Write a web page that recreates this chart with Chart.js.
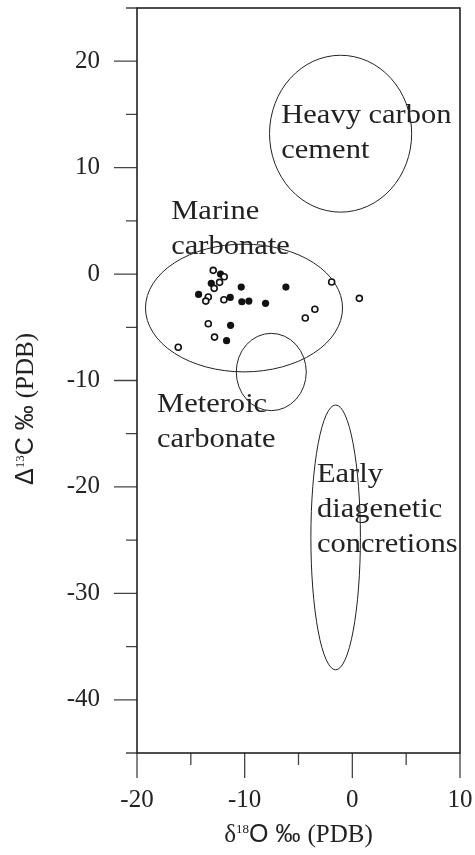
<!DOCTYPE html>
<html>
<head>
<meta charset="utf-8">
<script src="https://cdn.jsdelivr.net/npm/chart.js"></script>
<style>
  html, body { margin: 0; padding: 0; background: #fff; }
  #wrap { width: 475px; height: 855px; }
</style>
</head>
<body>
<div id="wrap"><canvas id="chart" width="475" height="855"></canvas></div>
<script>
// δ18O / δ13C values
const openX = [-12.92, -11.90, -12.33, -12.83, -13.38, -13.61, -11.93, -1.92, 0.65, -3.48, -4.37, -13.38, -12.80, -16.17];
const openY = [0.35, -0.25, -0.78, -1.34, -2.16, -2.54, -2.41, -0.75, -2.28, -3.31, -4.13, -4.67, -5.92, -6.88];
const filledX = [-12.24, -13.10, -14.28, -11.34, -10.32, -10.26, -9.61, -8.06, -6.17, -11.31, -11.68];
const filledY = [0.0, -0.87, -1.91, -2.19, -1.22, -2.60, -2.54, -2.75, -1.22, -4.82, -6.26];

// fields: centre x, centre y, half width, half height (data units)
const zoneNames = ['Heavy carbon cement', 'Marine carbonate', 'Meteroic carbonate', 'Early diagenetic concretions'];
const zoneCx = [-1.09, -10.06, -7.53, -1.55];
const zoneCy = [13.19, -3.19, -9.2, -24.74];
const zoneRx = [6.6, 9.15, 3.25, 2.3];
const zoneRy = [7.37, 6.0, 3.63, 12.44];

// label text lines and anchor (left / first baseline, data units)
const labelLines = [['Heavy carbon', 'cement'], ['Marine', 'carbonate'], ['Meteroic', 'carbonate'], ['Early', 'diagenetic', 'concretions']];
const labelX = [-6.6, -16.82, -18.14, -3.29];
const labelY = [14.15, 5.16, -12.93, -19.56];

const xMajor = [-20, -10, 0, 10];
const xMinor = [-15, -5, 5];
const yMajor = [-40, -30, -20, -10, 0, 10, 20];
const yMinor = [-45, -35, -25, -15, -5, 5, 15, 25];

const SERIF = '"Liberation Serif", "Times New Roman", serif';
const SANS = '"Liberation Sans", Arial, sans-serif';

function pts(xs, ys){ return xs.map((x,i)=>({x:x, y:ys[i]})); }

function drawRich(ctx, parts, x, y, align){
  let w = 0;
  parts.forEach(p=>{ ctx.font = p.font; w += ctx.measureText(p.t).width; });
  let cx = align === 'center' ? x - w/2 : x;
  parts.forEach(p=>{
    ctx.font = p.font;
    ctx.fillText(p.t, cx, y + (p.dy||0));
    cx += ctx.measureText(p.t).width;
  });
}

function noPad(s){ s.paddingLeft = 0; s.paddingRight = 0; s.paddingTop = 0; s.paddingBottom = 0; }

const decor = {
  id: 'decor',
  beforeDatasetsDraw(chart){
    const ctx = chart.ctx, xs = chart.scales.x, ys = chart.scales.y, a = chart.chartArea;
    ctx.save();
    // fields
    ctx.strokeStyle = '#222';
    ctx.lineWidth = 1;
    zoneCx.forEach((cx,i)=>{
      const px = xs.getPixelForValue(cx), py = ys.getPixelForValue(zoneCy[i]);
      const rx = Math.abs(xs.getPixelForValue(cx + zoneRx[i]) - px);
      const ry = Math.abs(ys.getPixelForValue(zoneCy[i] + zoneRy[i]) - py);
      ctx.beginPath();
      ctx.ellipse(px, py, rx, ry, 0, 0, Math.PI*2);
      ctx.stroke();
    });
    // ticks
    ctx.strokeStyle = '#444';
    ctx.lineWidth = 1.3;
    ctx.beginPath();
    xMajor.forEach(v=>{ const p = xs.getPixelForValue(v); ctx.moveTo(p, a.bottom); ctx.lineTo(p, a.bottom + 25); });
    xMinor.forEach(v=>{ const p = xs.getPixelForValue(v); ctx.moveTo(p, a.bottom); ctx.lineTo(p, a.bottom + 12); });
    yMajor.forEach(v=>{ const p = ys.getPixelForValue(v); ctx.moveTo(a.left, p); ctx.lineTo(a.left - 23, p); });
    yMinor.forEach(v=>{ const p = ys.getPixelForValue(v); ctx.moveTo(a.left, p); ctx.lineTo(a.left - 11, p); });
    ctx.stroke();
    // frame
    ctx.strokeStyle = '#222';
    ctx.lineWidth = 1.6;
    ctx.strokeRect(a.left, a.top, a.right - a.left, a.bottom - a.top);
    ctx.restore();
  },
  afterDatasetsDraw(chart){
    const ctx = chart.ctx, xs = chart.scales.x, ys = chart.scales.y, a = chart.chartArea;
    ctx.save();
    ctx.fillStyle = '#222';
    ctx.textAlign = 'left';
    ctx.textBaseline = 'alphabetic';
    ctx.font = '27px ' + SERIF;
    // field names are set a little wide in the original
    labelLines.forEach((lines,i)=>{
      const px = xs.getPixelForValue(labelX[i]), py = ys.getPixelForValue(labelY[i]);
      lines.forEach((t,j)=>{
        ctx.save();
        ctx.translate(px, py + j*35);
        ctx.scale(1.13, 1);
        ctx.fillText(t, 0, 0);
        ctx.restore();
      });
    });
    // x axis title
    drawRich(ctx, [
      {t:'\u03B4', font:'25px ' + SERIF},
      {t:'18', font:'13px ' + SERIF, dy:-9},
      {t:'O \u2030 ', font:'25px ' + SANS},
      {t:'(PDB)', font:'25px ' + SERIF}
    ], (a.left + a.right)/2, 842, 'center');
    // y axis title
    ctx.translate(33, 409);
    ctx.rotate(-Math.PI/2);
    drawRich(ctx, [
      {t:'\u0394', font:'25px ' + SANS},
      {t:'13', font:'13px ' + SERIF, dy:-9},
      {t:'C \u2030 ', font:'25px ' + SANS},
      {t:'(PDB)', font:'25px ' + SERIF}
    ], 0, 0, 'center');
    ctx.restore();
  }
};

new Chart(document.getElementById('chart'), {
  type: 'scatter',
  data: {
    datasets: [
      { data: pts(openX, openY), pointRadius: 3, borderWidth: 1.6, backgroundColor: '#fff', borderColor: '#111' },
      { data: pts(filledX, filledY), pointRadius: 3.6, borderWidth: 0, backgroundColor: '#111', borderColor: '#111' }
    ]
  },
  options: {
    responsive: false,
    animation: false,
    events: [],
    layout: { padding: { top: 8, right: 15, left: 0, bottom: 0 } },
    plugins: { legend: { display: false }, tooltip: { enabled: false } },
    scales: {
      x: {
        type: 'linear', min: -20, max: 10,
        grid: { display: false, drawTicks: false },
        border: { display: false },
        ticks: { padding: 32, color: '#222', font: { family: SERIF, size: 25 }, maxRotation: 0 },
        afterBuildTicks: s => { s.ticks = xMajor.map(v=>({value:v})); },
        afterFit: s => { s.height = 102; noPad(s); }
      },
      y: {
        type: 'linear', min: -45, max: 25,
        grid: { display: false, drawTicks: false },
        border: { display: false },
        ticks: { padding: 37, color: '#222', font: { family: SERIF, size: 25 } },
        afterBuildTicks: s => { s.ticks = yMajor.map(v=>({value:v})); },
        afterFit: s => { s.width = 137; noPad(s); }
      }
    }
  },
  plugins: [decor]
});
</script>
</body>
</html>
